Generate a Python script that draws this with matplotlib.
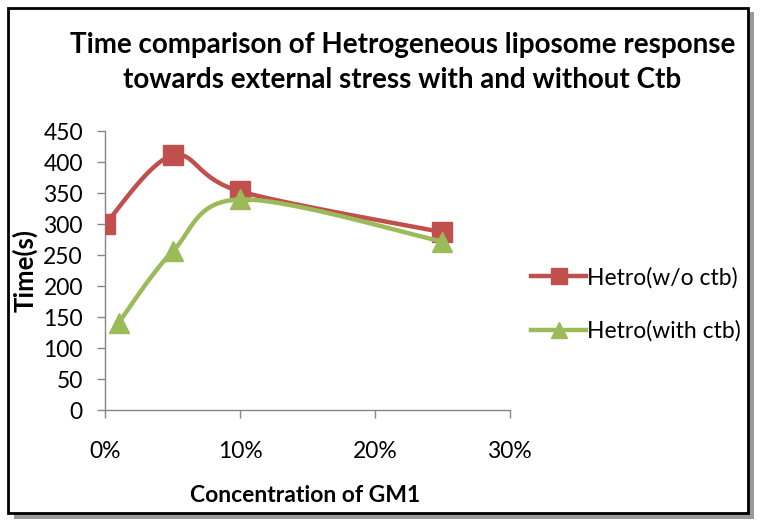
import numpy as np
import matplotlib
matplotlib.use("Agg")
import matplotlib.pyplot as plt
from matplotlib.patches import Rectangle
from matplotlib.ticker import FuncFormatter
from matplotlib.lines import Line2D

plt.rcParams['font.family'] = ['Lato', 'DejaVu Sans']

title = "Time comparison of Hetrogeneous liposome response\ntowards external stress with and without Ctb"
x_label = "Concentration of GM1"
y_label = "Time(s)"

series1_name = "Hetro(w/o ctb)"
series1_x = [0.00, 0.05, 0.10, 0.25]
series1_y = [300, 411, 353, 287]

series2_name = "Hetro(with ctb)"
series2_x = [0.01, 0.05, 0.10, 0.25]
series2_y = [141, 256, 340, 272]

x_ticks = [0.0, 0.1, 0.2, 0.3]
y_ticks = list(range(0, 451, 50))


def smooth(xs, ys, n=40):
    # Catmull-Rom style bezier smoothing (Excel-like)
    xs = np.asarray(xs, float); ys = np.asarray(ys, float)
    pts = np.column_stack([xs, ys])
    out = []
    for i in range(len(pts) - 1):
        p0 = pts[i - 1] if i > 0 else pts[i]
        p1 = pts[i]; p2 = pts[i + 1]
        p3 = pts[i + 2] if i + 2 < len(pts) else pts[i + 1]
        c1 = p1 + (p2 - p0) / 6.0
        c2 = p2 - (p3 - p1) / 6.0
        t = np.linspace(0, 1, n)[:, None]
        seg = ((1 - t) ** 3) * p1 + 3 * ((1 - t) ** 2) * t * c1 + 3 * (1 - t) * t ** 2 * c2 + t ** 3 * p2
        out.append(seg if i == 0 else seg[1:])
    s = np.vstack(out)
    return s[:, 0], s[:, 1]


fig = plt.figure(figsize=(7.62, 5.25), dpi=100)

# border with shadow
fig.patches.append(Rectangle((0.018, 0.012), 0.972, 0.965, transform=fig.transFigure,
                             facecolor='#9a9a9a', edgecolor='none', zorder=-2))
fig.patches.append(Rectangle((0.010, 0.022), 0.972, 0.963, transform=fig.transFigure,
                             facecolor='white', edgecolor='black', linewidth=2, zorder=-1))

ax = fig.add_axes([0.138, 0.219, 0.531, 0.531])
ax.set_facecolor('none')

red = '#C0504D'
green = '#9BBB59'

sx, sy = smooth(series1_x, series1_y)
ax.plot(sx, sy, color=red, lw=3.2, solid_capstyle='round', zorder=3)
ax.plot(series1_x, series1_y, ls='none', marker='s', ms=14, color=red, zorder=4)

gx, gy = smooth(series2_x, series2_y)
ax.plot(gx, gy, color=green, lw=3.2, solid_capstyle='round', zorder=5)
ax.plot(series2_x, series2_y, ls='none', marker='^', ms=15, color=green, zorder=6)

ax.set_xlim(0, 0.30)
ax.set_ylim(0, 450)
ax.set_xticks(x_ticks)
ax.set_yticks(y_ticks)
ax.xaxis.set_major_formatter(FuncFormatter(lambda v, p: f"{v*100:.0f}%"))

for s in ['top', 'right']:
    ax.spines[s].set_visible(False)
for s in ['left', 'bottom']:
    ax.spines[s].set_color('#868686')
    ax.spines[s].set_linewidth(1.0)
ax.tick_params(axis='both', colors='#868686', length=6, width=1.0, direction='out')
ax.tick_params(axis='y', labelsize=16.5, labelcolor='black', pad=10)
ax.tick_params(axis='x', labelsize=16.5, labelcolor='black', pad=16)

fig.text(0.528, 0.881, title, ha='center', va='center', fontsize=20, fontweight='bold',
         linespacing=1.45)
fig.text(0.033, 0.484, y_label, rotation=90, ha='center', va='center', fontsize=18.5, fontweight='bold')
fig.text(0.40, 0.057, x_label, ha='center', va='center', fontsize=16.5, fontweight='bold')

h1 = Line2D([], [], color=red, lw=3.2, marker='s', ms=12)
h2 = Line2D([], [], color=green, lw=3.2, marker='^', ms=12)
fig.legend([h1, h2], [series1_name, series2_name], loc='center left',
           bbox_to_anchor=(0.682, 0.42), frameon=False, fontsize=16.5,
           handlelength=2.4, handletextpad=0.05, labelspacing=1.4, borderpad=0)

fig.savefig('out.png', dpi=100)
